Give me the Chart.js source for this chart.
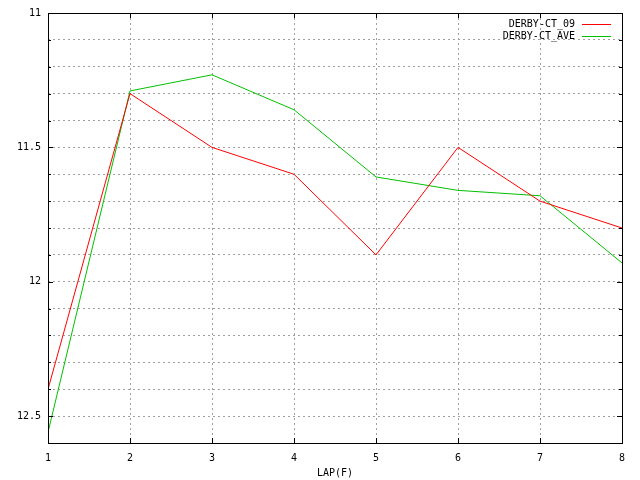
<!DOCTYPE html>
<html>
<head>
<meta charset="utf-8">
<script src="https://cdn.jsdelivr.net/npm/chart.js@4/dist/chart.umd.min.js"></script>
<style>
  body { margin: 0; background: #fff; }
  canvas { display: block; }
</style>
</head>
<body>
<canvas id="myChart" width="640" height="480"></canvas>
<script>
var laps = [1, 2, 3, 4, 5, 6, 7, 8];
var derby09 = [12.4, 11.3, 11.5, 11.6, 11.9, 11.5, 11.7, 11.8];
var derbyAve = [12.56, 11.29, 11.23, 11.36, 11.61, 11.66, 11.68, 11.93];
var yLabels = [11, 11.5, 12, 12.5];

function toPoints(vals) {
  var pts = [];
  for (var i = 0; i < laps.length; i++) {
    pts.push({ x: laps[i], y: vals[i] });
  }
  return pts;
}

var monoFont = { family: "'DejaVu Sans Mono', monospace", size: 10 };

// gnuplot style frame, inward ticks and key in the top right corner
var framePlugin = {
  id: "frame",
  afterDatasetsDraw: function(chart) {
    var ctx = chart.ctx;
    var a = chart.chartArea;
    var xs = chart.scales.x;
    var ys = chart.scales.y;
    ctx.save();
    ctx.strokeStyle = "#000";
    ctx.lineWidth = 1;
    ctx.beginPath();
    ys.ticks.forEach(function(t) {
      var py = Math.round(ys.getPixelForValue(t.value)) + 0.5;
      var len = yLabels.indexOf(Math.round(t.value * 10) / 10) >= 0 ? 5 : 3;
      ctx.moveTo(a.left, py); ctx.lineTo(a.left + len, py);
      ctx.moveTo(a.right, py); ctx.lineTo(a.right - len, py);
    });
    xs.ticks.forEach(function(t) {
      var px = Math.round(xs.getPixelForValue(t.value)) + 0.5;
      ctx.moveTo(px, a.bottom); ctx.lineTo(px, a.bottom - 5);
      ctx.moveTo(px, a.top); ctx.lineTo(px, a.top + 5);
    });
    ctx.stroke();
    ctx.strokeRect(Math.round(a.left) + 0.5, Math.round(a.top) + 0.5,
      Math.round(a.right - a.left), Math.round(a.bottom - a.top));

    ctx.font = "10px 'DejaVu Sans Mono', monospace";
    ctx.textAlign = "right";
    ctx.textBaseline = "middle";
    chart.data.datasets.forEach(function(ds, i) {
      var ly = Math.round(a.top + 11 + i * 12) + 0.5;
      ctx.fillStyle = "#000";
      ctx.fillText(ds.label, a.right - 47, ly);
      ctx.strokeStyle = ds.borderColor;
      ctx.beginPath();
      ctx.moveTo(a.right - 40, ly);
      ctx.lineTo(a.right - 11, ly);
      ctx.stroke();
    });
    ctx.restore();
  }
};

new Chart("myChart", {
  type: "line",
  data: {
    datasets: [{
      label: "DERBY-CT_09",
      data: toPoints(derby09),
      borderColor: "#ff0000",
      borderWidth: 1,
      pointRadius: 0,
      tension: 0,
      fill: false
    }, {
      label: "DERBY-CT_AVE",
      data: toPoints(derbyAve),
      borderColor: "#00c000",
      borderWidth: 1,
      pointRadius: 0,
      tension: 0,
      fill: false
    }]
  },
  plugins: [framePlugin],
  options: {
    responsive: false,
    animation: false,
    layout: { padding: { left: 0, right: 18, top: 11, bottom: 0 } },
    plugins: {
      legend: { display: false },
      tooltip: { enabled: false }
    },
    scales: {
      x: {
        type: "linear",
        min: 1,
        max: 8,
        ticks: {
          stepSize: 1,
          color: "#000",
          font: monoFont,
          padding: 9,
          maxRotation: 0
        },
        grid: {
          color: "#a0a0a0",
          drawTicks: false
        },
        border: { display: false, dash: [2, 3] },
        title: {
          display: true,
          text: "LAP(F)",
          color: "#000",
          font: monoFont,
          padding: { top: 0, bottom: 1 }
        },
        afterFit: function(scale) { scale.height = 37; }
      },
      y: {
        reverse: true,
        min: 11,
        max: 12.6,
        ticks: {
          stepSize: 0.1,
          color: "#000",
          font: monoFont,
          padding: 7,
          callback: function(v) {
            var r = Math.round(v * 10) / 10;
            return yLabels.indexOf(r) >= 0 ? String(r) : "";
          }
        },
        grid: {
          color: "#a0a0a0",
          drawTicks: false
        },
        border: { display: false, dash: [2, 3] },
        afterFit: function(scale) { scale.width = 48; }
      }
    }
  }
});
</script>
</body>
</html>
